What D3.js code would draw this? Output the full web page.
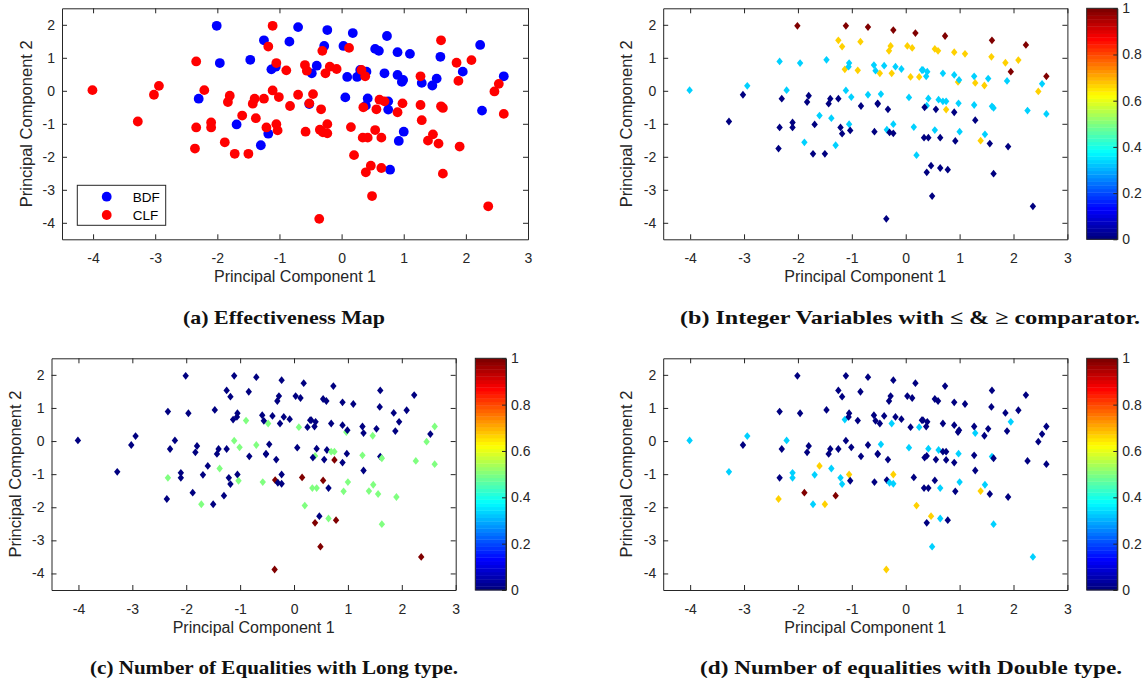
<!DOCTYPE html>
<html>
<head>
<meta charset="utf-8">
<script src="https://cdn.jsdelivr.net/npm/d3@7"></script>
<style>
  body { margin: 0; background: #fff; }
</style>
</head>
<body>
<svg id="fig" width="1142" height="683"></svg>
<script>
// ---- data ----
var bdfPC1 = [-2.01, -1.96, -2.30, -1.69, -1.47, -1.25, -1.30, -1.18, -0.84, -0.70, -1.13, -1.06,
  -0.23, 0.18, 0.73, -0.28, 0.03, 0.54, 0.60, 0.90, 1.10, 1.59, 2.23, 1.95, 2.61, -0.40, -0.48,
  0.09, 0.25, 0.30, 0.40, 0.69, 0.90, 0.97, 0.99, 1.29, 1.46, 1.53, 0.06, 0.42, 0.39, 0.75, 0.75,
  -0.52, 1.00, 0.92, 0.78, 2.26];
var bdfPC2 = [1.97, 0.84, -0.24, -1.02, 0.94, 1.53, -1.65, -1.30, 1.49, 1.93, 0.65, 0.73,
  1.84, 1.75, 1.66, 1.36, 1.36, 1.27, 1.21, 1.17, 1.12, 1.03, 1.39, 0.58, 0.44, 0.76, 0.53,
  0.42, 0.42, 0.63, 0.58, 0.53, 0.48, 0.27, 0.33, 0.24, 0.16, 0.37, -0.20, -0.23, -0.45, -0.32, -0.57,
  -0.40, -1.24, -1.52, -2.39, -0.60];
var bdfIntCmp = [1, .33, 0, 0, .33, .67, .33, 0, .67, 1, .67, .33,
  1, 1, 1, .67, .67, .67, .67, .67, .67, .67, 1, 1, 1, .33, .67,
  .67, .67, .33, .33, .33, .33, .67, .33, .67, .67, .33, .33, .33, .33, .33, .67,
  0, .33, 0, 0, .33];
var bdfLongEq = [0, 0, 0, 0, 0, 0, 0, 0, 0, 0, 0, 0,
  0, 0, 0, 0, 0, 0, 0, 0, 0, 0, 0, 0, .5, 0, .5,
  .5, 0, 0, 0, 0, 0, .5, 0, 0, .5, 0, 0, 0, .5, .5, 1,
  0, .5, .5, 1, .5];
var bdfDoubleEq = [0, 0, 0, .33, 0, 0, 1, .33, 0, 0, .33, 0,
  0, 0, 0, 0, 0, 0, 0, 0, 0, 0, 0, .33, 0, 0, 0,
  0, .33, 0, 0, 0, 0, 0, 0, .33, 0, 0, .33, .33, 0, 0, 0,
  0, .33, 0, 0, 0];

var clfPC1 = [-4.01, -3.28, -3.02, -2.94, -2.34, -2.21, -2.34, -2.36, -2.10, -2.10,
  -1.88, -1.72, -1.50, -1.80, -1.83, -1.60, -1.38, -1.43, -1.40, -1.25,
  -1.21, -1.05, -1.03, -1.18, -1.11, -1.05, -0.89, -1.11, -1.01, -0.83,
  -0.70, 1.60, -0.31, 0.12, 1.85, 2.09, -0.59, -0.56, -0.26, -0.19,
  -0.08, 0.32, 0.38, 1.27, 1.88, 2.53, 2.46, 2.61, -0.46, -0.52,
  -0.33, 0.61, 0.69, 0.35, 0.56, 0.90, 0.98, 1.27, 1.29, 1.60,
  1.63, -0.58, -0.35, -0.30, -0.23, -0.23, 0.15, 0.34, 0.42, 0.54,
  0.64, 1.39, 1.47, 1.56, 1.90, 0.20, 0.39, 0.47, 0.64, 1.63,
  0.49, -0.36, 2.36];
var clfPC2 = [0.02, -0.93, -0.12, 0.15, 0.89, 0.02, -1.11, -1.75, -0.96, -1.11,
  -1.56, -1.91, -1.91, -0.15, -0.34, -0.75, -0.83, -0.39, -0.24, -0.24,
  -1.11, -1.01, -1.20, 1.34, 1.97, 0.84, 0.62, 0.01, -0.19, -0.46,
  -0.12, 1.53, 1.21, 1.30, 0.85, 0.93, 0.78, 0.61, 0.53, 0.73,
  0.66, 0.63, 0.44, 0.44, 0.30, 0.21, -0.02, -0.70, -0.10, -0.38,
  -0.56, -0.27, -0.32, -0.50, -0.56, -0.65, -0.38, -0.43, -0.89, -0.47,
  -0.52, -1.24, -1.18, -1.26, -1.01, -1.29, -1.10, -1.42, -1.42, -1.19,
  -1.42, -1.51, -1.32, -1.60, -1.69, -1.95, -2.47, -2.27, -2.34, -2.51,
  -3.19, -3.88, -3.50];
var clfIntCmp = [.33, 0, 0, .33, .33, .33, 0, 0, 0, 0,
  .33, 0, 0, 0, 0, .33, .33, 0, 0, 0,
  0, .33, 0, .67, 1, .33, .67, .33, .33, 0,
  .33, 1, .67, .67, .67, .67, .33, .33, .67, .33,
  .33, .33, .33, .33, .33, .33, .67, .33, .33, 0,
  0, .33, .33, 0, 0, 0, .33, .33, 0, .33,
  .33, 0, .33, 0, .33, 0, .33, 0, 0, .33,
  0, .67, .33, 0, 0, .33, 0, 0, 0, 0,
  0, 0, 0];
var clfLongEq = [0, 0, 0, 0, 0, 0, .5, 0, 0, 0,
  0, .5, 0, 0, 0, 0, .5, 0, 0, 0,
  0, 0, .5, 0, 0, 0, .5, .5, .5, 0,
  .5, 0, 0, 0, 0, 0, 0, 0, 0, 0,
  0, 0, 0, 0, 0, 0, .5, .5, 0, 0,
  0, 0, .5, 0, 0, 0, 0, .5, 0, 0,
  .5, .5, 1, 0, 0, 0, 1, .5, .5, 1,
  0, .5, .5, .5, .5, .5, 1, 0, .5, .5,
  1, 1, 1];
var clfDoubleEq = [.33, .33, 0, .33, 0, .33, 0, .67, .33, .33,
  1, .33, .67, 0, 0, .67, .33, 0, 0, 0,
  .33, .67, 0, 0, 0, 0, 0, 0, 0, 0,
  0, 0, 0, 0, 0, 0, 0, 0, .33, 0,
  0, 0, 0, 0, 0, 0, 0, 0, .33, 0,
  0, .33, 0, 0, 0, 0, .33, 0, 0, .33,
  0, 0, 0, .33, .67, .33, 0, 0, 0, 0,
  .33, .67, .33, 0, 0, .67, 0, .67, .33, .33,
  .33, .67, .33];

var xTicks = [-4, -3, -2, -1, 0, 1, 2, 3];
var yTicks = [-4, -3, -2, -1, 0, 1, 2];
var cbTicks = [0, 0.2, 0.4, 0.6, 0.8, 1];
var groups = ["BDF", "CLF"];
var captions = [
  "(a) Effectiveness Map",
  "(b) Integer Variables with \u2264 & \u2265 comparator.",
  "(c) Number of Equalities with Long type.",
  "(d) Number of equalities with Double type."
];

// ---- helpers ----
var ink = "#262626",
    sans = "'Liberation Sans', Arial, Helvetica, sans-serif",
    serif = "'Liberation Serif', 'Times New Roman', serif";

function clamp(v) { return Math.max(0, Math.min(1, v)); }

// matlab style jet colormap
function jet(t) {
  return d3.rgb(255 * clamp(1.5 - Math.abs(4 * t - 3)),
                255 * clamp(1.5 - Math.abs(4 * t - 2)),
                255 * clamp(1.5 - Math.abs(4 * t - 1))).formatHex();
}

var bdf = bdfPC1.map(function (v, i) {
  return { x: v, y: bdfPC2[i], g: groups[0], b: bdfIntCmp[i], c: bdfLongEq[i], d: bdfDoubleEq[i] };
});
var clf = clfPC1.map(function (v, i) {
  return { x: v, y: clfPC2[i], g: groups[1], b: clfIntCmp[i], c: clfLongEq[i], d: clfDoubleEq[i] };
});
var points = bdf.concat(clf);

var svg = d3.select("#fig");

// panel boxes (pixel geometry of each subplot)
var panels = [
  { key: null, x0: 62, x1: 528, y0: 8.3, y1: 239.3, ylab: 31.5, cap: [284, 324, 202] },
  { key: "b", x0: 663.2, x1: 1067.4, y0: 8.3, y1: 239.3, ylab: 632, cb: [1086.7, 1117.3], cap: [910, 324, 460] },
  { key: "c", x0: 51.5, x1: 455.7, y0: 358.3, y1: 590, ylab: 20.5, cb: [475.3, 506], cap: [274, 674, 368] },
  { key: "d", x0: 663.2, x1: 1067.4, y0: 358.3, y1: 590, ylab: 632, cb: [1086.7, 1117.3], cap: [911, 674, 422] }
];

var diamond = "M0,-3.9L3.2,0L0,3.9L-3.2,0Z";

panels.forEach(function (p, pi) {
  var g = svg.append("g");
  var x = d3.scaleLinear().domain([-4.5, 3]).range([p.x0, p.x1]);
  var y = d3.scaleLinear().domain([-4.5, 2.5]).range([p.y1, p.y0]);
  var fmt = function (d) { return String(d); };

  // axes: ticks on all four sides, pointing in
  var ax = g.append("g");
  ax.append("g").attr("transform", "translate(0," + p.y1 + ")")
    .call(d3.axisBottom(x).tickValues(xTicks).tickSizeInner(-5).tickSizeOuter(0).tickPadding(14).tickFormat(fmt));
  ax.append("g").attr("transform", "translate(0," + p.y0 + ")")
    .call(d3.axisTop(x).tickValues(xTicks).tickSizeInner(-5).tickSizeOuter(0).tickFormat(""));
  ax.append("g").attr("transform", "translate(" + p.x0 + ",0)")
    .call(d3.axisLeft(y).tickValues(yTicks).tickSizeInner(-5).tickSizeOuter(0).tickPadding(7).tickFormat(fmt));
  ax.append("g").attr("transform", "translate(" + p.x1 + ",0)")
    .call(d3.axisRight(y).tickValues(yTicks).tickSizeInner(-5).tickSizeOuter(0).tickFormat(""));
  ax.selectAll("g").attr("font-family", sans).attr("font-size", 14);
  ax.selectAll(".domain, .tick line").attr("stroke", ink);
  ax.selectAll(".tick text").attr("fill", ink);

  // marks
  var marks = g.append("g");
  if (p.key === null) {
    marks.selectAll("circle").data(points).join("circle")
      .attr("cx", function (d) { return x(d.x); })
      .attr("cy", function (d) { return y(d.y); })
      .attr("r", 4.9)
      .attr("fill", function (d) { return d.g === "BDF" ? "#0000ff" : "#ff0000"; });
  } else {
    marks.selectAll("path").data(points).join("path")
      .attr("d", diamond)
      .attr("transform", function (d) { return "translate(" + x(d.x) + "," + y(d.y) + ")"; })
      .attr("fill", function (d) { return jet(d[p.key]); });
  }

  // axis titles
  g.append("text")
    .attr("x", (p.x0 + p.x1) / 2).attr("y", p.y1 + 43)
    .attr("text-anchor", "middle").attr("font-family", sans).attr("font-size", 16).attr("fill", ink)
    .text("Principal Component 1");
  g.append("text")
    .attr("transform", "translate(" + p.ylab + "," + ((p.y0 + p.y1) / 2) + ") rotate(-90)")
    .attr("text-anchor", "middle").attr("font-family", sans).attr("font-size", 16.5).attr("fill", ink)
    .text("Principal Component 2");

  // legend for the effectiveness map
  if (p.key === null) {
    var lg = g.append("g");
    lg.append("rect").attr("x", 77.3).attr("y", 185.3).attr("width", 88.4).attr("height", 40)
      .attr("fill", "#fff").attr("stroke", ink).attr("stroke-width", 1);
    groups.forEach(function (name, i) {
      var ly = 196.7 + i * 18.3;
      lg.append("circle").attr("cx", 106.7).attr("cy", ly).attr("r", 4.9)
        .attr("fill", i === 0 ? "#0000ff" : "#ff0000");
      lg.append("text").attr("x", 132.7).attr("y", ly + 5)
        .attr("font-family", sans).attr("font-size", 13.5).attr("fill", "#000")
        .text(name);
    });
  }

  // colorbar
  if (p.cb) {
    var cy = d3.scaleLinear().domain([0, 1]).range([p.y1, p.y0]);
    var n = 64;
    g.append("g").selectAll("rect").data(d3.range(n)).join("rect")
      .attr("x", p.cb[0]).attr("width", p.cb[1] - p.cb[0])
      .attr("y", function (i) { return cy((i + 1) / n); })
      .attr("height", function (i) { return cy(i / n) - cy((i + 1) / n) + 0.4; })
      .attr("fill", function (i) { return jet(i / (n - 1)); });
    g.append("rect").attr("x", p.cb[0]).attr("y", p.y0)
      .attr("width", p.cb[1] - p.cb[0]).attr("height", p.y1 - p.y0)
      .attr("fill", "none").attr("stroke", ink);
    var cax = g.append("g").attr("transform", "translate(" + p.cb[1] + ",0)")
      .call(d3.axisRight(cy).tickValues(cbTicks).tickSizeInner(-4).tickSizeOuter(0).tickPadding(5).tickFormat(fmt));
    cax.attr("font-family", sans).attr("font-size", 14);
    cax.selectAll(".domain, .tick line").attr("stroke", ink);
    cax.selectAll(".tick text").attr("fill", ink);
  }

  // caption under each subfigure
  svg.append("text")
    .attr("x", p.cap[0]).attr("y", p.cap[1])
    .attr("text-anchor", "middle")
    .attr("font-family", serif).attr("font-weight", "bold").attr("font-size", 19.5)
    .attr("textLength", p.cap[2]).attr("lengthAdjust", "spacingAndGlyphs")
    .attr("fill", "#111")
    .text(captions[pi]);
});
</script>
</body>
</html>
